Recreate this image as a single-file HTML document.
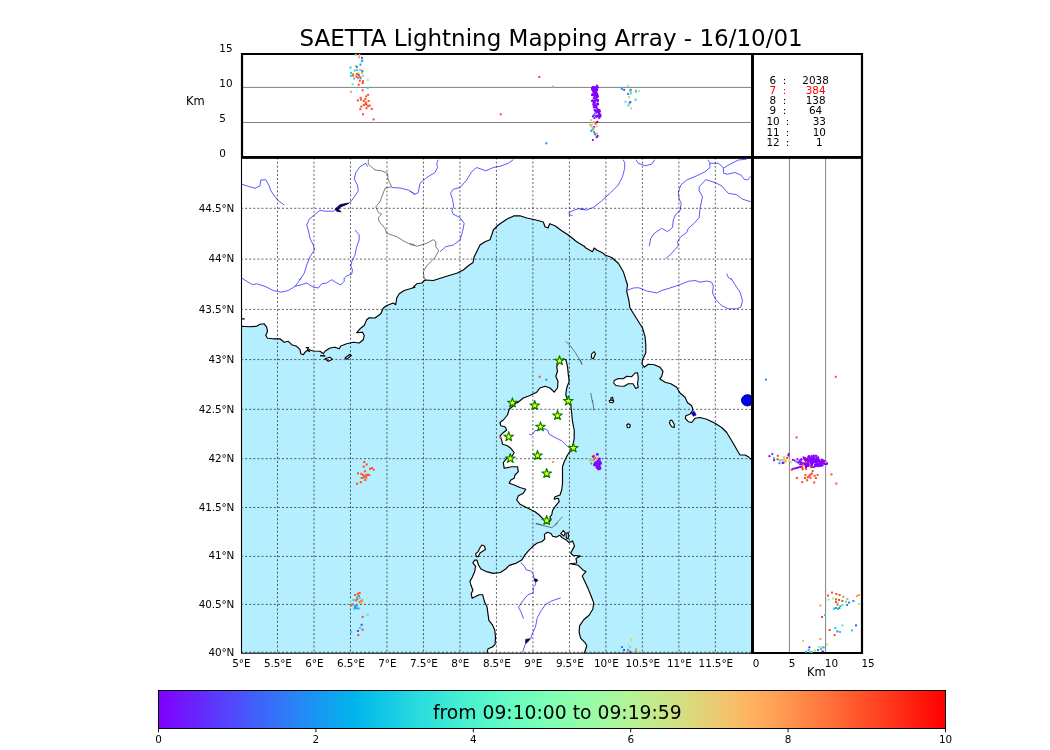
<!DOCTYPE html>
<html><head><meta charset="utf-8"><title>SAETTA Lightning Mapping Array</title>
<style>html,body{margin:0;padding:0;background:#fff;}body{width:1050px;height:750px;position:relative;overflow:hidden;font-family:"DejaVu Sans","Liberation Sans",sans-serif;}</style></head>
<body>
<svg width="1050" height="750" viewBox="0 0 1050 750" style="position:absolute;left:0;top:0">
<defs><clipPath id="mc"><rect x="241.5" y="157.5" width="510.5" height="495.5"/></clipPath>
<linearGradient id="rb" x1="0" x2="1" y1="0" y2="0"><stop offset="0.0000" stop-color="#8000ff"/><stop offset="0.0250" stop-color="#7413ff"/><stop offset="0.0500" stop-color="#6826fe"/><stop offset="0.0750" stop-color="#5a3bfd"/><stop offset="0.1000" stop-color="#4e4dfc"/><stop offset="0.1250" stop-color="#4062fa"/><stop offset="0.1500" stop-color="#3473f8"/><stop offset="0.1750" stop-color="#2884f6"/><stop offset="0.2000" stop-color="#1996f3"/><stop offset="0.2250" stop-color="#0ea5ef"/><stop offset="0.2500" stop-color="#00b5eb"/><stop offset="0.2750" stop-color="#0dc2e8"/><stop offset="0.3000" stop-color="#18cde4"/><stop offset="0.3250" stop-color="#27dade"/><stop offset="0.3500" stop-color="#32e3da"/><stop offset="0.3750" stop-color="#41ecd4"/><stop offset="0.4000" stop-color="#4df3ce"/><stop offset="0.4250" stop-color="#59f8c9"/><stop offset="0.4500" stop-color="#67fcc2"/><stop offset="0.4750" stop-color="#72febb"/><stop offset="0.5000" stop-color="#81ffb4"/><stop offset="0.5250" stop-color="#8dfead"/><stop offset="0.5500" stop-color="#99fca6"/><stop offset="0.5750" stop-color="#a6f89d"/><stop offset="0.6000" stop-color="#b3f396"/><stop offset="0.6250" stop-color="#c1eb8d"/><stop offset="0.6500" stop-color="#cde385"/><stop offset="0.6750" stop-color="#d9da7d"/><stop offset="0.7000" stop-color="#e6cd73"/><stop offset="0.7250" stop-color="#f3c26b"/><stop offset="0.7500" stop-color="#ffb360"/><stop offset="0.7750" stop-color="#ffa558"/><stop offset="0.8000" stop-color="#ff964f"/><stop offset="0.8250" stop-color="#ff8444"/><stop offset="0.8500" stop-color="#ff733b"/><stop offset="0.8750" stop-color="#ff5f30"/><stop offset="0.9000" stop-color="#ff4d27"/><stop offset="0.9250" stop-color="#ff3b1e"/><stop offset="0.9500" stop-color="#ff2613"/><stop offset="0.9750" stop-color="#ff1309"/><stop offset="1.0000" stop-color="#ff0000"/></linearGradient>
</defs>
<g clip-path="url(#mc)">
<rect x="241.5" y="157.5" width="510.5" height="495.5" fill="#b4eeff"/>
<path d="M230.0 326.3 L241.7 326.3 L248.3 326.7 L256.7 326.3 L260.0 324.3 L264.2 323.8 L266.7 327.2 L267.5 331.3 L265.8 335.5 L267.5 338.3 L273.3 338.8 L280.0 338.8 L284.2 342.2 L288.3 341.3 L291.7 344.7 L296.7 346.3 L300.0 349.7 L300.8 353.8 L303.3 354.7 L305.8 351.3 L309.2 349.7 L313.3 351.0 L320.0 351.3 L323.3 353.8 L325.0 351.3 L330.0 348.0 L335.0 347.2 L339.2 348.8 L340.8 346.0 L346.7 343.8 L353.3 342.2 L359.2 343.0 L363.3 339.7 L364.2 335.5 L362.5 332.2 L356.7 332.7 L360.0 328.8 L364.2 325.5 L366.7 319.7 L369.2 317.7 L375.0 318.0 L380.8 313.8 L383.3 308.0 L386.7 305.5 L393.3 303.0 L395.8 304.7 L396.7 298.0 L399.2 293.8 L404.2 290.5 L410.0 288.8 L415.0 287.2 L413.3 287.2 L416.7 283.8 L421.7 283.0 L425.0 280.0 L433.3 280.5 L448.3 275.8 L456.7 273.3 L463.3 270.0 L468.3 265.8 L473.0 262.5 L474.2 256.7 L476.7 251.7 L480.0 245.0 L485.0 241.7 L490.0 239.7 L491.7 235.0 L493.3 230.0 L498.3 225.0 L506.7 219.2 L514.2 215.8 L520.0 215.8 L526.7 218.0 L535.0 219.7 L543.3 222.0 L545.0 226.7 L548.0 228.0 L549.7 223.7 L555.0 225.8 L561.7 230.8 L568.3 235.0 L576.7 241.7 L585.0 246.7 L585.0 247.5 L592.5 251.7 L594.2 248.0 L596.7 250.0 L603.3 253.3 L605.0 255.0 L611.7 257.5 L618.3 263.3 L623.3 271.7 L625.8 279.7 L627.5 284.7 L626.7 291.3 L628.7 299.7 L630.0 308.0 L634.2 314.7 L638.3 321.3 L642.5 328.0 L645.0 336.3 L645.8 344.7 L645.8 353.0 L642.5 359.7 L642.0 363.8 L644.2 367.2 L648.3 364.3 L654.2 364.7 L660.0 367.2 L663.0 371.3 L661.7 376.3 L659.7 378.8 L665.0 382.2 L670.8 383.8 L676.7 387.2 L680.0 393.0 L685.0 397.2 L687.5 402.7 L688.3 403.3 L691.7 405.8 L693.0 410.0 L690.0 414.2 L685.8 415.8 L685.3 418.3 L688.3 421.7 L691.7 422.5 L695.0 418.3 L700.0 417.5 L706.7 419.2 L715.0 423.3 L721.7 427.5 L726.7 432.5 L730.8 439.2 L734.2 445.0 L737.5 450.8 L740.0 455.0 L745.0 455.0 L748.3 456.7 L750.8 459.2 L765.0 459.2 L765.0 140.0 L230.0 140.0 Z" fill="#fff" stroke="#000" stroke-width="1.15" stroke-linejoin="round"/>
<path d="M517.5 402.7 L523.3 398.0 L530.0 395.5 L536.7 392.2 L540.0 388.0 L545.0 386.3 L550.0 388.0 L554.2 392.2 L557.5 388.0 L558.0 381.3 L555.8 376.3 L557.5 371.3 L556.7 366.3 L559.2 362.2 L563.3 358.8 L565.8 359.7 L567.5 366.3 L568.3 374.7 L569.2 381.3 L566.7 388.0 L565.8 394.7 L567.5 399.7 L568.3 402.7 L570.8 405.0 L571.7 413.3 L572.5 421.7 L574.2 430.0 L574.2 438.3 L573.0 445.0 L570.8 450.0 L567.5 455.0 L564.2 461.7 L562.5 466.7 L562.5 475.0 L562.5 483.3 L561.7 490.0 L560.0 495.0 L555.0 496.7 L554.2 499.2 L558.3 498.3 L559.2 501.7 L555.0 506.7 L552.5 510.8 L551.7 515.0 L550.0 516.7 L550.8 520.0 L548.3 522.5 L546.7 522.5 L543.3 519.2 L539.2 515.0 L535.0 511.7 L530.0 509.2 L525.0 506.7 L520.0 504.2 L516.7 500.0 L518.3 495.8 L523.3 493.3 L525.8 489.2 L520.0 487.5 L514.2 485.0 L509.2 483.3 L510.8 480.0 L514.2 478.3 L515.0 475.0 L518.3 471.7 L517.5 466.7 L511.7 466.7 L504.2 468.3 L503.3 462.5 L506.7 458.3 L511.7 456.7 L514.2 452.5 L510.8 448.3 L507.5 445.8 L502.5 444.2 L501.7 440.0 L500.0 435.8 L502.5 433.3 L506.7 430.0 L505.0 426.7 L500.8 425.8 L500.0 422.5 L503.3 420.0 L507.5 415.0 L509.2 409.2 L513.3 405.8 L517.5 401.7 Z" fill="#fff" stroke="#000" stroke-width="1.15" stroke-linejoin="round"/>
<path d="M487.1 652.3 L488.0 648.8 L492.4 647.0 L495.1 644.3 L495.5 637.2 L494.8 630.2 L492.4 624.8 L488.9 620.4 L488.0 614.2 L487.1 607.1 L484.5 601.8 L482.7 594.7 L479.1 594.7 L475.6 596.5 L472.1 598.2 L471.2 593.8 L472.9 590.3 L471.2 585.8 L469.9 581.4 L472.4 577.0 L474.7 571.6 L475.6 566.3 L472.9 562.8 L474.7 560.1 L477.0 560.1 L478.3 564.6 L480.9 569.0 L486.2 571.6 L493.3 573.4 L500.4 572.5 L505.7 569.0 L509.3 565.4 L516.4 563.1 L521.7 560.1 L524.4 555.7 L527.9 551.3 L532.3 546.8 L536.8 543.3 L542.1 541.5 L544.8 538.8 L544.4 534.4 L547.4 532.3 L551.0 533.5 L552.7 536.2 L556.3 537.1 L559.8 535.3 L562.5 538.0 L566.0 539.7 L568.7 542.4 L572.2 541.5 L572.5 540.8 L574.5 546.1 L570.7 553.0 L573.0 555.3 L580.6 556.1 L576.0 558.4 L576.8 563.0 L569.9 563.8 L578.3 565.3 L582.9 569.9 L586.0 571.4 L582.2 576.0 L585.2 582.2 L588.3 589.1 L591.4 596.7 L593.7 602.9 L592.9 609.0 L589.1 615.2 L583.7 619.8 L579.6 625.9 L579.1 632.0 L580.6 638.2 L585.2 642.8 L586.8 645.8 L584.5 652.7 L584.2 656.6 L583.0 665.0 L487.0 665.0 Z" fill="#fff" stroke="#000" stroke-width="1.15" stroke-linejoin="round"/>
<path d="M325.0 358.8 L330.0 357.2 L332.5 359.3 L328.3 361.3 Z" fill="#fff" stroke="#000" stroke-width="1.1" stroke-linejoin="round"/>
<path d="M345.0 358.0 L350.0 354.3 L351.3 355.5 L346.7 359.3 Z" fill="#fff" stroke="#000" stroke-width="1.1" stroke-linejoin="round"/>
<path d="M614.2 380.5 L618.3 378.5 L623.3 378.8 L626.7 376.3 L631.7 376.7 L635.0 373.0 L637.5 372.7 L638.3 378.0 L637.5 383.8 L638.3 387.2 L635.8 388.5 L633.0 383.8 L628.3 383.8 L624.2 386.3 L619.2 386.0 L615.8 385.5 L613.7 383.0 Z" fill="#fff" stroke="#000" stroke-width="1.1" stroke-linejoin="round"/>
<path d="M591.7 353.8 L594.2 351.7 L595.5 353.8 L593.3 358.8 L591.3 357.7 Z" fill="#fff" stroke="#000" stroke-width="1.1" stroke-linejoin="round"/>
<path d="M610.8 398.3 L612.5 397.2 L613.3 400.5 L611.2 402.2 Z" fill="#fff" stroke="#000" stroke-width="1.1" stroke-linejoin="round"/>
<path d="M670.0 420.8 L671.7 420.0 L674.2 424.2 L674.2 427.5 L671.7 426.7 L669.5 423.3 Z" fill="#fff" stroke="#000" stroke-width="1.1" stroke-linejoin="round"/>
<path d="M626.7 425.0 L628.3 423.7 L630.3 425.0 L629.7 427.5 L627.5 427.8 Z" fill="#fff" stroke="#000" stroke-width="1.1" stroke-linejoin="round"/>
<path d="M609.2 400.8 L611.7 400.0 L613.8 401.3 L612.5 402.8 L610.0 402.5 Z" fill="#fff" stroke="#000" stroke-width="1.1" stroke-linejoin="round"/>
<path d="M476.5 556.6 L475.6 553.9 L478.3 551.3 L480.0 547.7 L481.8 545.0 L484.5 545.9 L485.4 549.5 L482.7 551.3 L480.0 553.0 L478.3 556.6 Z" fill="#fff" stroke="#000" stroke-width="1.1" stroke-linejoin="round"/>
<path d="M560.7 533.5 L563.4 530.5 L565.1 532.6 L563.9 536.2 Z" fill="#fff" stroke="#000" stroke-width="1.1" stroke-linejoin="round"/>
<path d="M566.0 533.5 L568.3 532.6 L568.3 538.8 L566.4 538.0 Z" fill="#fff" stroke="#000" stroke-width="1.1" stroke-linejoin="round"/>
<path d="M241.7 318.8 L244.7 318.8" fill="none" stroke="#000" stroke-width="1.3"/>
<path d="M305.8 347.7 L308.3 347.7 L307.5 350.5 L310.0 351.7" fill="none" stroke="#000" stroke-width="1.3"/>
<path d="M320.0 355.7 L325.3 356.0" fill="none" stroke="#000" stroke-width="1.3"/>
<ellipse cx="747.5" cy="400.3" rx="6" ry="5.6" fill="#0000ff" stroke="#000060" stroke-width="1"/>
<path d="M691.3 413.0 L694.2 411.3 L696.2 415.0 L693.3 416.2 Z" fill="#0000c0" stroke="#000080" stroke-width="0.6"/>
<path d="M241.7 184.2 L246.7 185.8 L255.0 188.3 L260.0 185.8 L260.8 180.0 L265.8 179.7 L269.2 185.8 L270.8 190.8 L277.5 200.0 L284.2 205.0" fill="none" stroke="#3030ff" stroke-width="0.8" stroke-linejoin="round"/>
<path d="M367.5 166.7 L365.8 163.3 L360.0 166.7 L355.8 172.5 L354.2 179.2 L357.5 185.0 L358.3 190.8 L355.0 195.8 L350.8 201.7 L348.3 203.3" fill="none" stroke="#3030ff" stroke-width="0.8" stroke-linejoin="round"/>
<path d="M335.0 210.0 L333.3 211.2 L325.0 211.2 L320.0 210.3 L313.3 215.8 L309.2 219.2 L306.7 225.0 L308.3 230.0 L310.0 238.3 L313.3 245.0 L314.5 250.0 L310.0 256.7 L306.7 265.0 L304.2 273.3 L300.0 279.7" fill="none" stroke="#3030ff" stroke-width="0.8" stroke-linejoin="round"/>
<path d="M355.0 230.0 L359.2 235.0 L359.2 240.0 L356.7 246.7 L355.0 255.0 L351.7 261.7 L350.8 265.8 L352.5 270.0 L351.7 274.2 L346.7 275.8 L344.2 278.3" fill="none" stroke="#3030ff" stroke-width="0.8" stroke-linejoin="round"/>
<path d="M391.7 187.5 L400.0 188.0 L408.3 190.0 L415.0 194.7" fill="none" stroke="#3030ff" stroke-width="0.8" stroke-linejoin="round"/>
<path d="M410.0 190.8 L415.0 194.2 L418.3 192.5 L420.0 183.3 L426.7 177.5 L435.0 172.5 L437.5 167.5 L436.7 163.3 L438.3 159.7" fill="none" stroke="#3030ff" stroke-width="0.8" stroke-linejoin="round"/>
<path d="M440.0 251.7 L445.8 246.7 L453.3 245.0 L460.0 240.0 L462.5 231.7 L464.2 223.3 L460.0 217.5 L453.3 214.2 L451.7 210.8 L453.7 206.7 L452.5 199.2 L450.5 193.3 L453.3 189.2 L460.0 187.5 L466.7 180.0 L471.7 171.7 L476.7 167.5 L485.8 170.8 L493.3 167.5 L500.0 166.3 L508.3 163.3 L513.3 159.7" fill="none" stroke="#3030ff" stroke-width="0.8" stroke-linejoin="round"/>
<path d="M585.0 209.2 L578.3 208.7 L572.5 210.8 L569.2 212.5 L569.2 215.0 L572.5 215.3" fill="none" stroke="#3030ff" stroke-width="0.8" stroke-linejoin="round"/>
<path d="M580.0 209.2 L586.7 210.0 L593.3 207.5 L601.7 200.8 L610.0 193.3 L618.3 185.0 L622.5 176.7 L624.7 168.3 L624.7 162.5 L623.0 159.7" fill="none" stroke="#3030ff" stroke-width="0.8" stroke-linejoin="round"/>
<path d="M635.8 159.7 L638.3 163.3 L645.0 165.8 L651.7 164.2 L654.7 159.7" fill="none" stroke="#3030ff" stroke-width="0.8" stroke-linejoin="round"/>
<path d="M649.2 246.3 L650.8 238.3 L654.2 233.3 L661.7 228.3 L667.5 231.7 L672.5 227.5 L673.3 220.0 L675.8 214.2 L680.0 210.8 L681.2 203.3 L679.2 199.2 L678.3 192.5 L680.8 185.0 L686.7 180.0 L696.7 175.8 L705.0 171.7 L710.0 167.5 L709.7 162.5 L707.5 159.7" fill="none" stroke="#3030ff" stroke-width="0.8" stroke-linejoin="round"/>
<path d="M710.0 163.3 L718.3 163.3 L722.5 166.7 L723.3 168.3 L730.0 164.2 L738.3 160.0 L746.7 159.2" fill="none" stroke="#3030ff" stroke-width="0.8" stroke-linejoin="round"/>
<path d="M723.3 168.3 L723.7 173.3 L727.5 174.2 L735.0 172.5 L740.8 175.0 L744.2 179.2 L747.5 180.0 L750.8 176.3" fill="none" stroke="#3030ff" stroke-width="0.8" stroke-linejoin="round"/>
<path d="M665.8 258.7 L671.7 253.3 L678.3 245.8 L677.5 241.7 L680.8 236.7 L686.7 232.5 L688.3 228.3 L694.2 223.3 L699.2 217.5 L700.0 208.3 L702.5 196.7 L699.2 190.8 L699.2 186.7 L705.8 179.7 L715.0 182.5 L721.7 185.8 L728.3 193.3 L736.7 194.7 L742.5 199.2 L750.8 201.7" fill="none" stroke="#3030ff" stroke-width="0.8" stroke-linejoin="round"/>
<path d="M726.7 273.7 L728.3 277.5 L731.7 279.7" fill="none" stroke="#3030ff" stroke-width="0.8" stroke-linejoin="round"/>
<path d="M241.7 278.0 L246.7 281.3 L252.5 284.7 L256.7 283.8 L265.0 286.3 L273.3 290.5 L281.7 292.2 L288.3 290.5 L295.0 286.3 L298.3 282.2 L300.8 278.0" fill="none" stroke="#3030ff" stroke-width="0.8" stroke-linejoin="round"/>
<path d="M295.0 286.3 L301.7 284.7 L306.7 283.0 L313.3 287.2 L318.3 288.0 L321.7 283.8 L326.7 283.0 L331.7 279.7 L336.7 283.0 L340.8 285.0 L344.2 281.3 L344.2 278.0" fill="none" stroke="#3030ff" stroke-width="0.8" stroke-linejoin="round"/>
<path d="M626.7 290.5 L633.3 288.0 L638.3 287.7 L641.7 288.8 L646.7 291.0 L653.3 292.2 L656.7 293.0 L661.7 290.5 L670.0 288.0 L680.0 284.7 L688.3 281.3 L695.0 280.5 L700.0 282.2 L706.7 281.0 L711.7 282.2 L713.3 286.3 L712.5 293.0 L715.8 299.7 L721.7 305.5 L728.3 308.8 L736.7 308.8 L740.8 307.2 L742.5 300.5 L740.0 292.2 L735.0 284.7 L730.8 278.0" fill="none" stroke="#3030ff" stroke-width="0.8" stroke-linejoin="round"/>
<path d="M529.2 434.2 L531.7 435.0 L535.0 430.8 L539.2 430.0 L543.3 428.3 L547.5 430.0 L549.2 434.2 L555.0 437.5 L561.7 440.8 L566.7 445.8 L570.8 448.3" fill="none" stroke="#3030ff" stroke-width="0.8" stroke-linejoin="round"/>
<path d="M520.8 562.4 L524.4 566.3 L526.1 569.9 L530.6 570.8 L533.2 574.3 L534.1 578.7 L535.9 584.1 L533.2 587.6 L533.2 592.9 L527.9 594.7 L523.5 600.0 L518.5 607.1 L520.8 611.5 L523.5 618.6" fill="none" stroke="#3030ff" stroke-width="0.8" stroke-linejoin="round"/>
<path d="M560.7 597.9 L551.8 600.9 L545.6 604.4 L541.2 610.7 L537.3 617.7 L535.5 626.6 L532.3 633.7 L530.6 639.0 L525.2 644.3 L522.6 652.3" fill="none" stroke="#3030ff" stroke-width="0.8" stroke-linejoin="round"/>
<path d="M348.3 203.0 L340.0 204.7 L335.0 209.2 L336.7 211.2 L341.2 211.8 L338.3 209.3 L341.2 206.7 L348.3 203.7 Z" fill="#0000a0" stroke="#000" stroke-width="0.8"/>
<path d="M534.3 578.9 L536.6 579.1 L537.9 580.4 L535.9 582.0 L534.9 580.7 Z" fill="#0000a0" stroke="#000" stroke-width="0.8"/>
<path d="M525.7 639.4 L529.8 638.8 L527.7 641.5 L525.7 643.4 Z" fill="#0000a0" stroke="#000" stroke-width="0.8"/>
<path d="M368.3 159.2 L368.3 164.2 L375.0 170.0 L381.7 170.8 L387.5 173.3 L388.3 180.0 L391.7 186.7 L385.0 188.3 L382.5 195.0 L380.0 201.7 L375.8 206.7 L378.3 212.5 L381.7 214.2 L378.3 217.5 L379.2 221.7 L385.0 228.3 L386.7 233.3 L396.7 236.7 L403.3 240.8 L411.7 245.0 L415.0 245.3" fill="none" stroke="#444" stroke-width="0.7" stroke-linejoin="round"/>
<path d="M410.0 243.3 L416.7 246.3 L426.7 243.3 L433.3 239.7 L435.8 241.7 L435.8 246.7 L438.7 250.8 L435.0 257.5 L426.7 265.8 L423.3 271.7 L424.2 278.3 L426.7 280.0" fill="none" stroke="#444" stroke-width="0.7" stroke-linejoin="round"/>
<path d="M565.8 341.3 L570.0 345.5 L575.0 352.2 L579.2 358.8 L582.2 364.3" fill="none" stroke="#444" stroke-width="0.7" stroke-linejoin="round"/>
<path d="M580.0 359.7 L582.0 364.7" fill="none" stroke="#444" stroke-width="0.7" stroke-linejoin="round"/>
<path d="M590.8 393.0 L592.5 402.7" fill="none" stroke="#444" stroke-width="0.7" stroke-linejoin="round"/>
<path d="M535.8 523.3 L541.7 524.7" fill="none" stroke="#444" stroke-width="0.7" stroke-linejoin="round"/>
<path d="M555.0 524.7 L562.5 516.7" fill="none" stroke="#444" stroke-width="0.7" stroke-linejoin="round"/>
<path d="M592.5 400.0 L593.3 405.0 L593.7 410.3" fill="none" stroke="#444" stroke-width="0.7" stroke-linejoin="round"/>
<path d="M535.9 523.8 L551.8 527.7 L558.0 522.9" fill="none" stroke="#444" stroke-width="0.7" stroke-linejoin="round"/>
<path d="M277.49 157.5 V653.0 M313.98 157.5 V653.0 M350.47 157.5 V653.0 M386.96 157.5 V653.0 M423.45 157.5 V653.0 M459.94 157.5 V653.0 M496.43 157.5 V653.0 M532.92 157.5 V653.0 M569.41 157.5 V653.0 M605.90 157.5 V653.0 M642.39 157.5 V653.0 M678.88 157.5 V653.0 M715.37 157.5 V653.0 M241 208.3 H752.0 M241 259.1 H752.0 M241 309.4 H752.0 M241 359.6 H752.0 M241 409.3 H752.0 M241 458.7 H752.0 M241 507.5 H752.0 M241 556.4 H752.0 M241 604.4 H752.0 M241 652.3 H752.0" fill="none" stroke="#000" stroke-opacity="0.62" stroke-width="1" stroke-dasharray="2 2.1"/>
<rect x="363.2" y="461.0" width="2" height="2" fill="#ff4a26"/>
<rect x="365.7" y="463.5" width="2" height="2" fill="#ff4a26"/>
<rect x="362.7" y="465.7" width="2" height="2" fill="#ff4a26"/>
<rect x="364.0" y="470.3" width="2" height="2" fill="#ff4a26"/>
<rect x="369.0" y="467.8" width="2" height="2" fill="#ff4a26"/>
<rect x="371.0" y="467.0" width="2" height="2" fill="#ff4a26"/>
<rect x="372.7" y="468.7" width="2" height="2" fill="#ff4a26"/>
<rect x="357.0" y="472.3" width="2" height="2" fill="#ff4a26"/>
<rect x="360.3" y="472.8" width="2" height="2" fill="#ff4a26"/>
<rect x="362.0" y="474.0" width="2" height="2" fill="#ff4a26"/>
<rect x="363.7" y="475.2" width="2" height="2" fill="#ff4a26"/>
<rect x="365.3" y="474.3" width="2" height="2" fill="#ff4a26"/>
<rect x="366.5" y="473.7" width="2" height="2" fill="#ff4a26"/>
<rect x="368.2" y="474.0" width="2" height="2" fill="#ff4a26"/>
<rect x="365.3" y="476.5" width="2" height="2" fill="#ff4a26"/>
<rect x="362.7" y="476.5" width="2" height="2" fill="#ff4a26"/>
<rect x="360.7" y="477.0" width="2" height="2" fill="#ff4a26"/>
<rect x="364.3" y="479.0" width="2" height="2" fill="#ff4a26"/>
<rect x="359.8" y="481.2" width="2" height="2" fill="#ff4a26"/>
<rect x="356.0" y="482.7" width="2" height="2" fill="#ff4a26"/>
<rect x="356.9" y="592.8" width="2" height="2" fill="#ff4a26"/>
<rect x="358.7" y="591.9" width="2" height="2" fill="#ff4a26"/>
<rect x="354.2" y="594.0" width="2" height="2" fill="#ff4a26"/>
<rect x="357.8" y="595.1" width="2" height="2" fill="#ff4a26"/>
<rect x="356.0" y="598.1" width="2" height="2" fill="#ff4a26"/>
<rect x="355.1" y="599.4" width="2" height="2" fill="#ff4a26"/>
<rect x="360.5" y="599.9" width="2" height="2" fill="#ff4a26"/>
<rect x="358.7" y="601.1" width="2" height="2" fill="#ff4a26"/>
<rect x="351.6" y="603.4" width="2" height="2" fill="#ff4a26"/>
<rect x="350.3" y="604.3" width="2" height="2" fill="#ff4a26"/>
<rect x="361.7" y="615.9" width="2" height="2" fill="#ff4a26"/>
<rect x="361.7" y="628.8" width="2" height="2" fill="#ff4a26"/>
<rect x="357.3" y="634.1" width="2" height="2" fill="#ff4a26"/>
<rect x="361.3" y="599.0" width="2" height="2" fill="#ff9a4e"/>
<rect x="359.6" y="601.7" width="2" height="2" fill="#ff9a4e"/>
<rect x="356.0" y="596.4" width="2" height="2" fill="#22d0e0"/>
<rect x="352.5" y="599.0" width="2" height="2" fill="#22d0e0"/>
<rect x="354.2" y="604.3" width="2" height="2" fill="#22d0e0"/>
<rect x="353.4" y="607.9" width="2" height="2" fill="#22d0e0"/>
<rect x="358.7" y="597.2" width="2" height="2" fill="#22d0e0"/>
<rect x="359.2" y="626.9" width="2" height="2" fill="#22d0e0"/>
<rect x="350.2" y="630.9" width="2" height="2" fill="#22d0e0"/>
<rect x="349.8" y="599.9" width="2" height="2" fill="#a0f0a0"/>
<rect x="366.7" y="596.9" width="2" height="2" fill="#a0f0a0"/>
<rect x="362.2" y="601.7" width="2" height="2" fill="#a0f0a0"/>
<rect x="356.9" y="602.6" width="2" height="2" fill="#a0f0a0"/>
<rect x="366.7" y="613.7" width="2" height="2" fill="#5ce8a8"/>
<rect x="356.0" y="604.3" width="2" height="2" fill="#2090f0"/>
<rect x="355.1" y="607.0" width="2" height="2" fill="#2090f0"/>
<rect x="357.4" y="607.5" width="2" height="2" fill="#2090f0"/>
<rect x="353.9" y="605.8" width="2" height="2" fill="#2090f0"/>
<rect x="360.6" y="623.8" width="2" height="2" fill="#4050ff"/>
<rect x="356.9" y="630.0" width="2" height="2" fill="#4050ff"/>
<rect x="630.1" y="638.0" width="2" height="2" fill="#e6d36a"/>
<rect x="630.1" y="639.4" width="2" height="2" fill="#e6d36a"/>
<rect x="637.5" y="651.0" width="2" height="2" fill="#e6d36a"/>
<rect x="626.9" y="643.9" width="2" height="2" fill="#a0f0a0"/>
<rect x="629.2" y="646.0" width="2" height="2" fill="#5ce8a8"/>
<rect x="621.0" y="646.0" width="2" height="2" fill="#2090f0"/>
<rect x="627.2" y="649.0" width="2" height="2" fill="#2090f0"/>
<rect x="623.0" y="649.0" width="2" height="2" fill="#4050ff"/>
<rect x="629.2" y="650.8" width="2" height="2" fill="#8000ff"/>
<rect x="634.9" y="647.8" width="2" height="2" fill="#ff9a4e"/>
<rect x="627.8" y="650.1" width="2" height="2" fill="#ff9a4e"/>
<rect x="634.9" y="649.9" width="2" height="2" fill="#22d0e0"/>
<rect x="538.7" y="375.8" width="2" height="2" fill="#ff4a26"/>
<rect x="545.3" y="378.7" width="2" height="2" fill="#2090f0"/>
<rect x="552.0" y="461.0" width="2" height="2" fill="#ff9a4e"/>
<rect x="499.5" y="436.5" width="2" height="2" fill="#ff4a26"/>
<circle cx="599.5" cy="459.0" r="1.4" fill="#8000ff"/>
<circle cx="598.0" cy="461.0" r="1.4" fill="#8000ff"/>
<circle cx="600.0" cy="462.0" r="1.4" fill="#8000ff"/>
<circle cx="597.0" cy="463.0" r="1.4" fill="#8000ff"/>
<circle cx="599.0" cy="464.0" r="1.4" fill="#8000ff"/>
<circle cx="595.0" cy="464.0" r="1.4" fill="#8000ff"/>
<circle cx="596.5" cy="465.5" r="1.4" fill="#8000ff"/>
<circle cx="598.5" cy="466.0" r="1.4" fill="#8000ff"/>
<circle cx="594.5" cy="465.0" r="1.4" fill="#8000ff"/>
<circle cx="597.0" cy="467.5" r="1.4" fill="#8000ff"/>
<circle cx="599.0" cy="468.0" r="1.4" fill="#8000ff"/>
<circle cx="600.0" cy="468.5" r="1.4" fill="#8000ff"/>
<circle cx="598.5" cy="469.0" r="1.4" fill="#8000ff"/>
<circle cx="600.5" cy="463.5" r="1.4" fill="#8000ff"/>
<circle cx="593.3" cy="456.6" r="1.4" fill="#8000ff"/>
<circle cx="597.4" cy="454.4" r="1.4" fill="#8000ff"/>
<circle cx="596.0" cy="462.5" r="1.4" fill="#8000ff"/>
<circle cx="598.0" cy="459.5" r="1.4" fill="#8000ff"/>
<circle cx="599.5" cy="466.5" r="1.4" fill="#8000ff"/>
<circle cx="594.2" cy="455.8" r="1.05" fill="#ff4a26"/>
<circle cx="595.8" cy="457.8" r="1.05" fill="#ff4a26"/>
<circle cx="594.0" cy="459.6" r="1.05" fill="#ff4a26"/>
<circle cx="591.2" cy="459.0" r="1.05" fill="#e6c86a"/>
<circle cx="591.2" cy="461.4" r="1.05" fill="#e6c86a"/>
<circle cx="596.8" cy="457.4" r="1.05" fill="#e6c86a"/>
<circle cx="597.2" cy="459.0" r="1.05" fill="#ff9a4e"/>
<circle cx="589.8" cy="460.2" r="1.05" fill="#5ce8a8"/>
<circle cx="593.8" cy="461.2" r="1.05" fill="#a0f090"/>
<circle cx="591.4" cy="463.6" r="1.05" fill="#2090f0"/>
<circle cx="595.2" cy="462.2" r="1.05" fill="#4050ff"/>
<circle cx="592.5" cy="460.3" r="1.05" fill="#ff9a4e"/>
<path transform="translate(559.5 360.7)" d="M0.0 -5.0 L1.1 -1.5 L4.8 -1.5 L1.8 0.6 L2.9 4.0 L0.0 1.9 L-2.9 4.0 L-1.8 0.6 L-4.8 -1.5 L-1.1 -1.5 Z" fill="#ffff00" stroke="#008000" stroke-width="1.15" stroke-linejoin="round"/>
<path transform="translate(512.4 402.8)" d="M0.0 -5.0 L1.1 -1.5 L4.8 -1.5 L1.8 0.6 L2.9 4.0 L0.0 1.9 L-2.9 4.0 L-1.8 0.6 L-4.8 -1.5 L-1.1 -1.5 Z" fill="#ffff00" stroke="#008000" stroke-width="1.15" stroke-linejoin="round"/>
<path transform="translate(534.7 405.5)" d="M0.0 -5.0 L1.1 -1.5 L4.8 -1.5 L1.8 0.6 L2.9 4.0 L0.0 1.9 L-2.9 4.0 L-1.8 0.6 L-4.8 -1.5 L-1.1 -1.5 Z" fill="#ffff00" stroke="#008000" stroke-width="1.15" stroke-linejoin="round"/>
<path transform="translate(568.3 401.0)" d="M0.0 -5.0 L1.1 -1.5 L4.8 -1.5 L1.8 0.6 L2.9 4.0 L0.0 1.9 L-2.9 4.0 L-1.8 0.6 L-4.8 -1.5 L-1.1 -1.5 Z" fill="#ffff00" stroke="#008000" stroke-width="1.15" stroke-linejoin="round"/>
<path transform="translate(557.5 415.5)" d="M0.0 -5.0 L1.1 -1.5 L4.8 -1.5 L1.8 0.6 L2.9 4.0 L0.0 1.9 L-2.9 4.0 L-1.8 0.6 L-4.8 -1.5 L-1.1 -1.5 Z" fill="#ffff00" stroke="#008000" stroke-width="1.15" stroke-linejoin="round"/>
<path transform="translate(540.5 426.8)" d="M0.0 -5.0 L1.1 -1.5 L4.8 -1.5 L1.8 0.6 L2.9 4.0 L0.0 1.9 L-2.9 4.0 L-1.8 0.6 L-4.8 -1.5 L-1.1 -1.5 Z" fill="#ffff00" stroke="#008000" stroke-width="1.15" stroke-linejoin="round"/>
<path transform="translate(508.7 436.7)" d="M0.0 -5.0 L1.1 -1.5 L4.8 -1.5 L1.8 0.6 L2.9 4.0 L0.0 1.9 L-2.9 4.0 L-1.8 0.6 L-4.8 -1.5 L-1.1 -1.5 Z" fill="#ffff00" stroke="#008000" stroke-width="1.15" stroke-linejoin="round"/>
<path transform="translate(573.3 448.0)" d="M0.0 -5.0 L1.1 -1.5 L4.8 -1.5 L1.8 0.6 L2.9 4.0 L0.0 1.9 L-2.9 4.0 L-1.8 0.6 L-4.8 -1.5 L-1.1 -1.5 Z" fill="#ffff00" stroke="#008000" stroke-width="1.15" stroke-linejoin="round"/>
<path transform="translate(537.5 455.5)" d="M0.0 -5.0 L1.1 -1.5 L4.8 -1.5 L1.8 0.6 L2.9 4.0 L0.0 1.9 L-2.9 4.0 L-1.8 0.6 L-4.8 -1.5 L-1.1 -1.5 Z" fill="#ffff00" stroke="#008000" stroke-width="1.15" stroke-linejoin="round"/>
<path transform="translate(510.3 458.5)" d="M0.0 -5.0 L1.1 -1.5 L4.8 -1.5 L1.8 0.6 L2.9 4.0 L0.0 1.9 L-2.9 4.0 L-1.8 0.6 L-4.8 -1.5 L-1.1 -1.5 Z" fill="#ffff00" stroke="#008000" stroke-width="1.15" stroke-linejoin="round"/>
<path transform="translate(546.7 473.5)" d="M0.0 -5.0 L1.1 -1.5 L4.8 -1.5 L1.8 0.6 L2.9 4.0 L0.0 1.9 L-2.9 4.0 L-1.8 0.6 L-4.8 -1.5 L-1.1 -1.5 Z" fill="#ffff00" stroke="#008000" stroke-width="1.15" stroke-linejoin="round"/>
<path transform="translate(546.7 520.5)" d="M0.0 -5.0 L1.1 -1.5 L4.8 -1.5 L1.8 0.6 L2.9 4.0 L0.0 1.9 L-2.9 4.0 L-1.8 0.6 L-4.8 -1.5 L-1.1 -1.5 Z" fill="#ffff00" stroke="#008000" stroke-width="1.15" stroke-linejoin="round"/>
</g>
<path d="M242 87.4 H752 M242 122.5 H752 M789.4 158 V653 M825.6 158 V653" stroke="#808080" stroke-width="1" fill="none"/>
<path d="M241.5 157.5 V653.5 M241 653.2 H752" stroke="#000" stroke-width="1.1" fill="none"/>
<path d="M242 54 H862 M242 53 V158.5 M241 157.4 H863 M862 53 V654 M752.5 53 V654 M751 653 H863" stroke="#000" stroke-width="2.2" fill="none"/>
<path d="M241 157.4 H863 M752.5 53 V654" stroke="#000" stroke-width="2.9" fill="none"/>
<rect x="354.8" y="53.8" width="2" height="2" fill="#5ce8a8"/>
<rect x="362.0" y="74.8" width="2" height="2" fill="#5ce8a8"/>
<rect x="351.6" y="83.2" width="2" height="2" fill="#5ce8a8"/>
<rect x="358.5" y="53.8" width="2" height="2" fill="#ff9a4e"/>
<rect x="358.0" y="56.3" width="2" height="2" fill="#ff9a4e"/>
<rect x="355.1" y="65.2" width="2" height="2" fill="#ff9a4e"/>
<rect x="359.3" y="69.0" width="2" height="2" fill="#ff9a4e"/>
<rect x="361.0" y="71.9" width="2" height="2" fill="#ff9a4e"/>
<rect x="352.1" y="73.0" width="2" height="2" fill="#ff9a4e"/>
<rect x="350.0" y="90.8" width="2" height="2" fill="#ff9a4e"/>
<rect x="360.9" y="56.8" width="2" height="2" fill="#4050ff"/>
<rect x="357.7" y="74.1" width="2" height="2" fill="#4050ff"/>
<rect x="361.2" y="59.5" width="2" height="2" fill="#2090f0"/>
<rect x="359.4" y="63.6" width="2" height="2" fill="#2090f0"/>
<rect x="355.9" y="65.9" width="2" height="2" fill="#2090f0"/>
<rect x="361.4" y="70.0" width="2" height="2" fill="#2090f0"/>
<rect x="360.7" y="60.5" width="2" height="2" fill="#22d0e0"/>
<rect x="349.5" y="66.6" width="2" height="2" fill="#22d0e0"/>
<rect x="353.7" y="69.6" width="2" height="2" fill="#22d0e0"/>
<rect x="356.1" y="69.0" width="2" height="2" fill="#22d0e0"/>
<rect x="350.0" y="71.9" width="2" height="2" fill="#22d0e0"/>
<rect x="350.0" y="74.8" width="2" height="2" fill="#22d0e0"/>
<rect x="353.2" y="77.6" width="2" height="2" fill="#22d0e0"/>
<rect x="359.9" y="77.3" width="2" height="2" fill="#22d0e0"/>
<rect x="366.8" y="86.9" width="2" height="2" fill="#22d0e0"/>
<rect x="357.5" y="71.9" width="2" height="2" fill="#a0f090"/>
<rect x="366.8" y="79.1" width="2" height="2" fill="#a0f090"/>
<rect x="355.9" y="73.0" width="2" height="2" fill="#ff4a26"/>
<rect x="352.1" y="74.6" width="2" height="2" fill="#ff4a26"/>
<rect x="355.3" y="75.5" width="2" height="2" fill="#ff4a26"/>
<rect x="356.9" y="76.7" width="2" height="2" fill="#ff4a26"/>
<rect x="359.1" y="76.2" width="2" height="2" fill="#ff4a26"/>
<rect x="358.8" y="79.7" width="2" height="2" fill="#ff4a26"/>
<rect x="362.0" y="80.2" width="2" height="2" fill="#ff4a26"/>
<rect x="361.7" y="82.1" width="2" height="2" fill="#ff4a26"/>
<rect x="357.7" y="83.7" width="2" height="2" fill="#ff4a26"/>
<rect x="361.7" y="89.3" width="2" height="2" fill="#ff4a26"/>
<rect x="367.1" y="93.8" width="2" height="2" fill="#ff4a26"/>
<rect x="365.2" y="95.4" width="2" height="2" fill="#ff4a26"/>
<rect x="359.6" y="96.8" width="2" height="2" fill="#ff4a26"/>
<rect x="364.4" y="98.1" width="2" height="2" fill="#ff4a26"/>
<rect x="360.1" y="98.6" width="2" height="2" fill="#ff4a26"/>
<rect x="356.9" y="99.4" width="2" height="2" fill="#ff4a26"/>
<rect x="362.8" y="100.0" width="2" height="2" fill="#ff4a26"/>
<rect x="367.6" y="100.0" width="2" height="2" fill="#ff4a26"/>
<rect x="364.9" y="101.5" width="2" height="2" fill="#ff4a26"/>
<rect x="364.4" y="102.9" width="2" height="2" fill="#ff4a26"/>
<rect x="362.8" y="104.0" width="2" height="2" fill="#ff4a26"/>
<rect x="365.5" y="103.6" width="2" height="2" fill="#ff4a26"/>
<rect x="368.7" y="104.5" width="2" height="2" fill="#ff4a26"/>
<rect x="367.1" y="105.2" width="2" height="2" fill="#ff4a26"/>
<rect x="360.4" y="105.6" width="2" height="2" fill="#ff4a26"/>
<rect x="365.5" y="107.2" width="2" height="2" fill="#ff4a26"/>
<rect x="370.8" y="107.9" width="2" height="2" fill="#ff4a26"/>
<rect x="359.3" y="108.2" width="2" height="2" fill="#ff4a26"/>
<rect x="362.0" y="113.2" width="2" height="2" fill="#ff4a26"/>
<rect x="372.6" y="118.4" width="2" height="2" fill="#ff4a26"/>
<circle cx="592.8" cy="94.1" r="1.1" fill="#8000ff"/>
<circle cx="593.5" cy="104.5" r="1.1" fill="#8000ff"/>
<circle cx="594.2" cy="100.6" r="1.1" fill="#8000ff"/>
<circle cx="595.1" cy="87.8" r="1.1" fill="#8000ff"/>
<circle cx="594.6" cy="87.5" r="1.1" fill="#8000ff"/>
<circle cx="592.4" cy="88.0" r="1.1" fill="#8000ff"/>
<circle cx="597.2" cy="97.0" r="1.1" fill="#8000ff"/>
<circle cx="593.3" cy="89.1" r="1.1" fill="#8000ff"/>
<circle cx="597.7" cy="103.7" r="1.1" fill="#8000ff"/>
<circle cx="594.4" cy="101.9" r="1.1" fill="#8000ff"/>
<circle cx="596.1" cy="116.5" r="1.1" fill="#8000ff"/>
<circle cx="596.3" cy="112.0" r="1.1" fill="#8000ff"/>
<circle cx="592.6" cy="89.5" r="1.1" fill="#8000ff"/>
<circle cx="597.1" cy="93.7" r="1.1" fill="#8000ff"/>
<circle cx="595.6" cy="90.4" r="1.1" fill="#8000ff"/>
<circle cx="594.9" cy="104.0" r="1.1" fill="#8000ff"/>
<circle cx="592.3" cy="101.0" r="1.1" fill="#8000ff"/>
<circle cx="593.2" cy="87.8" r="1.1" fill="#8000ff"/>
<circle cx="595.5" cy="105.5" r="1.1" fill="#8000ff"/>
<circle cx="595.6" cy="93.8" r="1.1" fill="#8000ff"/>
<circle cx="593.8" cy="97.9" r="1.1" fill="#8000ff"/>
<circle cx="597.9" cy="109.6" r="1.1" fill="#8000ff"/>
<circle cx="595.5" cy="91.9" r="1.1" fill="#8000ff"/>
<circle cx="597.5" cy="100.2" r="1.1" fill="#8000ff"/>
<circle cx="595.2" cy="107.2" r="1.1" fill="#8000ff"/>
<circle cx="596.5" cy="116.7" r="1.1" fill="#8000ff"/>
<circle cx="596.7" cy="96.9" r="1.1" fill="#8000ff"/>
<circle cx="595.0" cy="89.7" r="1.1" fill="#8000ff"/>
<circle cx="596.1" cy="87.5" r="1.1" fill="#8000ff"/>
<circle cx="597.0" cy="108.5" r="1.1" fill="#8000ff"/>
<circle cx="596.6" cy="112.6" r="1.1" fill="#8000ff"/>
<circle cx="596.5" cy="106.0" r="1.1" fill="#8000ff"/>
<circle cx="594.9" cy="102.0" r="1.1" fill="#8000ff"/>
<circle cx="599.5" cy="111.3" r="1.1" fill="#8000ff"/>
<circle cx="596.1" cy="98.6" r="1.1" fill="#8000ff"/>
<circle cx="596.4" cy="87.9" r="1.1" fill="#8000ff"/>
<circle cx="598.1" cy="104.3" r="1.1" fill="#8000ff"/>
<circle cx="596.0" cy="110.6" r="1.1" fill="#8000ff"/>
<circle cx="596.1" cy="95.9" r="1.1" fill="#8000ff"/>
<circle cx="594.8" cy="87.3" r="1.1" fill="#8000ff"/>
<circle cx="592.6" cy="90.1" r="1.1" fill="#8000ff"/>
<circle cx="596.8" cy="87.8" r="1.1" fill="#8000ff"/>
<circle cx="593.5" cy="89.2" r="1.1" fill="#8000ff"/>
<circle cx="597.4" cy="96.0" r="1.1" fill="#8000ff"/>
<circle cx="594.7" cy="88.2" r="1.1" fill="#8000ff"/>
<circle cx="597.5" cy="101.0" r="1.1" fill="#8000ff"/>
<circle cx="598.9" cy="110.5" r="1.1" fill="#8000ff"/>
<circle cx="594.5" cy="92.8" r="1.1" fill="#8000ff"/>
<circle cx="597.5" cy="95.1" r="1.1" fill="#8000ff"/>
<circle cx="596.5" cy="115.8" r="1.1" fill="#8000ff"/>
<circle cx="593.4" cy="90.2" r="1.1" fill="#8000ff"/>
<circle cx="595.0" cy="91.7" r="1.1" fill="#8000ff"/>
<circle cx="593.9" cy="102.3" r="1.1" fill="#8000ff"/>
<circle cx="594.5" cy="87.1" r="1.1" fill="#8000ff"/>
<circle cx="595.5" cy="95.4" r="1.1" fill="#8000ff"/>
<circle cx="599.2" cy="115.6" r="1.1" fill="#8000ff"/>
<circle cx="595.8" cy="99.9" r="1.1" fill="#8000ff"/>
<circle cx="593.6" cy="105.3" r="1.1" fill="#8000ff"/>
<circle cx="599.2" cy="113.6" r="1.1" fill="#8000ff"/>
<circle cx="599.1" cy="112.6" r="1.1" fill="#8000ff"/>
<circle cx="594.4" cy="96.1" r="1.1" fill="#8000ff"/>
<circle cx="595.9" cy="88.7" r="1.1" fill="#8000ff"/>
<circle cx="592.3" cy="87.9" r="1.1" fill="#8000ff"/>
<circle cx="592.9" cy="91.0" r="1.1" fill="#8000ff"/>
<circle cx="592.2" cy="94.5" r="1.1" fill="#8000ff"/>
<circle cx="592.8" cy="87.1" r="1.1" fill="#8000ff"/>
<circle cx="594.2" cy="88.6" r="1.1" fill="#8000ff"/>
<circle cx="597.5" cy="87.3" r="1.1" fill="#8000ff"/>
<circle cx="593.5" cy="103.2" r="1.1" fill="#8000ff"/>
<circle cx="594.1" cy="92.1" r="1.1" fill="#8000ff"/>
<circle cx="592.7" cy="95.2" r="1.1" fill="#8000ff"/>
<circle cx="599.8" cy="111.6" r="1.1" fill="#8000ff"/>
<circle cx="595.0" cy="98.3" r="1.1" fill="#8000ff"/>
<circle cx="592.5" cy="88.3" r="1.1" fill="#8000ff"/>
<circle cx="593.6" cy="94.6" r="1.1" fill="#8000ff"/>
<circle cx="595.4" cy="110.9" r="1.1" fill="#8000ff"/>
<circle cx="598.0" cy="87.3" r="1.1" fill="#8000ff"/>
<circle cx="592.8" cy="100.3" r="1.1" fill="#8000ff"/>
<circle cx="592.0" cy="100.8" r="1.1" fill="#8000ff"/>
<circle cx="598.1" cy="100.3" r="1.1" fill="#8000ff"/>
<circle cx="598.4" cy="112.2" r="1.1" fill="#8000ff"/>
<circle cx="594.2" cy="92.4" r="1.1" fill="#8000ff"/>
<circle cx="596.8" cy="90.0" r="1.1" fill="#8000ff"/>
<circle cx="596.9" cy="100.5" r="1.1" fill="#8000ff"/>
<circle cx="593.3" cy="94.3" r="1.1" fill="#8000ff"/>
<circle cx="599.5" cy="110.2" r="1.1" fill="#8000ff"/>
<circle cx="598.9" cy="111.8" r="1.1" fill="#8000ff"/>
<circle cx="598.3" cy="110.5" r="1.1" fill="#8000ff"/>
<circle cx="595.2" cy="91.5" r="1.1" fill="#8000ff"/>
<circle cx="592.1" cy="95.0" r="1.1" fill="#8000ff"/>
<circle cx="593.7" cy="87.4" r="1.1" fill="#8000ff"/>
<circle cx="596.3" cy="92.3" r="1.1" fill="#8000ff"/>
<circle cx="598.0" cy="115.8" r="1.1" fill="#8000ff"/>
<circle cx="600.6" cy="115.0" r="1.1" fill="#8000ff"/>
<circle cx="597.6" cy="115.7" r="1.1" fill="#8000ff"/>
<circle cx="593.3" cy="91.3" r="1.1" fill="#8000ff"/>
<circle cx="593.2" cy="90.7" r="1.1" fill="#8000ff"/>
<circle cx="597.5" cy="103.5" r="1.1" fill="#8000ff"/>
<circle cx="597.1" cy="111.3" r="1.1" fill="#8000ff"/>
<circle cx="597.2" cy="104.5" r="1.1" fill="#8000ff"/>
<circle cx="596.1" cy="88.3" r="1.1" fill="#8000ff"/>
<circle cx="599.3" cy="114.0" r="1.1" fill="#8000ff"/>
<circle cx="596.4" cy="108.0" r="1.1" fill="#8000ff"/>
<circle cx="596.9" cy="90.3" r="1.1" fill="#8000ff"/>
<circle cx="597.0" cy="94.3" r="1.1" fill="#8000ff"/>
<circle cx="597.9" cy="116.4" r="1.1" fill="#8000ff"/>
<circle cx="597.9" cy="96.3" r="1.1" fill="#8000ff"/>
<circle cx="594.6" cy="107.1" r="1.1" fill="#8000ff"/>
<circle cx="592.8" cy="89.1" r="1.1" fill="#8000ff"/>
<circle cx="599.4" cy="113.8" r="1.1" fill="#8000ff"/>
<circle cx="597.2" cy="89.6" r="1.1" fill="#8000ff"/>
<circle cx="599.3" cy="116.7" r="1.1" fill="#8000ff"/>
<circle cx="595.4" cy="94.8" r="1.1" fill="#8000ff"/>
<circle cx="592.0" cy="89.2" r="1.1" fill="#8000ff"/>
<circle cx="599.2" cy="116.3" r="1.1" fill="#8000ff"/>
<circle cx="597.8" cy="100.3" r="1.1" fill="#8000ff"/>
<circle cx="597.4" cy="97.3" r="1.1" fill="#8000ff"/>
<circle cx="595.6" cy="110.8" r="1.1" fill="#8000ff"/>
<circle cx="593.7" cy="92.1" r="1.1" fill="#8000ff"/>
<circle cx="595.6" cy="91.8" r="1.1" fill="#8000ff"/>
<circle cx="596.9" cy="85.5" r="1.1" fill="#8000ff"/>
<circle cx="592.9" cy="116.4" r="1.1" fill="#8000ff"/>
<circle cx="600.4" cy="116.4" r="1.1" fill="#8000ff"/>
<circle cx="594.5" cy="118.0" r="1.1" fill="#8000ff"/>
<circle cx="599.3" cy="118.0" r="1.1" fill="#8000ff"/>
<circle cx="597.5" cy="121.9" r="1.1" fill="#8000ff"/>
<circle cx="596.7" cy="122.3" r="1.1" fill="#8000ff"/>
<circle cx="592.9" cy="140.1" r="1.1" fill="#8000ff"/>
<circle cx="596.7" cy="137.2" r="1.1" fill="#8000ff"/>
<circle cx="597.7" cy="135.9" r="1.1" fill="#8000ff"/>
<circle cx="594.0" cy="127.1" r="1.1" fill="#8000ff"/>
<circle cx="593.7" cy="107.3" r="1.1" fill="#8000ff"/>
<circle cx="594.5" cy="110.0" r="1.1" fill="#8000ff"/>
<circle cx="594.0" cy="115.3" r="1.1" fill="#8000ff"/>
<rect x="593.9" y="112.5" width="2" height="2" fill="#2090f0"/>
<rect x="590.0" y="119.1" width="2" height="2" fill="#e6c86a"/>
<rect x="592.7" y="120.7" width="2" height="2" fill="#e6c86a"/>
<rect x="590.9" y="123.9" width="2" height="2" fill="#e6c86a"/>
<rect x="595.7" y="125.5" width="2" height="2" fill="#e6c86a"/>
<rect x="590.3" y="125.5" width="2" height="2" fill="#e6c86a"/>
<rect x="593.0" y="127.7" width="2" height="2" fill="#e6c86a"/>
<rect x="596.2" y="132.5" width="2" height="2" fill="#e6c86a"/>
<rect x="594.6" y="122.7" width="2" height="2" fill="#ff4a26"/>
<rect x="593.0" y="131.2" width="2" height="2" fill="#ff4a26"/>
<rect x="589.1" y="123.9" width="2" height="2" fill="#5ce8a8"/>
<rect x="591.9" y="127.1" width="2" height="2" fill="#5ce8a8"/>
<rect x="594.6" y="134.6" width="2" height="2" fill="#5ce8a8"/>
<rect x="590.3" y="129.8" width="2" height="2" fill="#2090f0"/>
<rect x="594.1" y="133.0" width="2" height="2" fill="#2090f0"/>
<rect x="591.7" y="128.7" width="2" height="2" fill="#22d0e0"/>
<rect x="626.8" y="84.8" width="2" height="2" fill="#a0f090"/>
<rect x="638.0" y="90.0" width="2" height="2" fill="#a0f090"/>
<rect x="620.9" y="87.9" width="2" height="2" fill="#2090f0"/>
<rect x="627.1" y="93.0" width="2" height="2" fill="#2090f0"/>
<rect x="623.2" y="88.9" width="2" height="2" fill="#4050ff"/>
<rect x="629.6" y="88.9" width="2" height="2" fill="#4050ff"/>
<rect x="634.9" y="89.1" width="2" height="2" fill="#e6c86a"/>
<rect x="630.0" y="91.1" width="2" height="2" fill="#e6c86a"/>
<rect x="628.2" y="96.0" width="2" height="2" fill="#e6c86a"/>
<rect x="630.0" y="107.4" width="2" height="2" fill="#e6c86a"/>
<rect x="634.9" y="90.7" width="2" height="2" fill="#22d0e0"/>
<rect x="634.6" y="98.7" width="2" height="2" fill="#22d0e0"/>
<rect x="628.4" y="102.3" width="2" height="2" fill="#22d0e0"/>
<rect x="627.5" y="104.5" width="2" height="2" fill="#22d0e0"/>
<rect x="628.9" y="90.3" width="2" height="2" fill="#5ce8a8"/>
<rect x="629.8" y="92.7" width="2" height="2" fill="#5ce8a8"/>
<rect x="624.5" y="100.8" width="2" height="2" fill="#5ce8a8"/>
<circle cx="630.3" cy="102.0" r="1.1" fill="#8000ff"/>
<rect x="538.3" y="76.0" width="2" height="2" fill="#ff4a26"/>
<rect x="552.0" y="85.7" width="2" height="2" fill="#ff9a4e"/>
<rect x="545.3" y="142.3" width="2" height="2" fill="#2090f0"/>
<rect x="499.7" y="113.3" width="2" height="2" fill="#ff4a26"/>
<rect x="764.9" y="378.6" width="2" height="2" fill="#2090f0"/>
<rect x="834.8" y="375.8" width="2" height="2" fill="#ff4a26"/>
<rect x="795.6" y="436.4" width="2" height="2" fill="#ff4a26"/>
<circle cx="816.5" cy="464.6" r="1.1" fill="#8000ff"/>
<circle cx="826.5" cy="463.4" r="1.1" fill="#8000ff"/>
<circle cx="811.7" cy="457.9" r="1.1" fill="#8000ff"/>
<circle cx="814.0" cy="462.3" r="1.1" fill="#8000ff"/>
<circle cx="805.8" cy="467.0" r="1.1" fill="#8000ff"/>
<circle cx="816.3" cy="456.2" r="1.1" fill="#8000ff"/>
<circle cx="803.6" cy="457.4" r="1.1" fill="#8000ff"/>
<circle cx="818.2" cy="457.3" r="1.1" fill="#8000ff"/>
<circle cx="826.4" cy="463.9" r="1.1" fill="#8000ff"/>
<circle cx="806.4" cy="459.4" r="1.1" fill="#8000ff"/>
<circle cx="818.2" cy="459.1" r="1.1" fill="#8000ff"/>
<circle cx="806.7" cy="465.7" r="1.1" fill="#8000ff"/>
<circle cx="812.1" cy="458.8" r="1.1" fill="#8000ff"/>
<circle cx="812.1" cy="464.1" r="1.1" fill="#8000ff"/>
<circle cx="821.7" cy="459.5" r="1.1" fill="#8000ff"/>
<circle cx="808.1" cy="461.7" r="1.1" fill="#8000ff"/>
<circle cx="820.4" cy="465.4" r="1.1" fill="#8000ff"/>
<circle cx="807.7" cy="462.9" r="1.1" fill="#8000ff"/>
<circle cx="825.9" cy="462.0" r="1.1" fill="#8000ff"/>
<circle cx="806.8" cy="458.8" r="1.1" fill="#8000ff"/>
<circle cx="801.7" cy="463.9" r="1.1" fill="#8000ff"/>
<circle cx="809.7" cy="457.7" r="1.1" fill="#8000ff"/>
<circle cx="815.6" cy="465.8" r="1.1" fill="#8000ff"/>
<circle cx="811.3" cy="460.3" r="1.1" fill="#8000ff"/>
<circle cx="816.7" cy="465.3" r="1.1" fill="#8000ff"/>
<circle cx="811.2" cy="461.2" r="1.1" fill="#8000ff"/>
<circle cx="819.8" cy="461.0" r="1.1" fill="#8000ff"/>
<circle cx="806.1" cy="460.0" r="1.1" fill="#8000ff"/>
<circle cx="801.6" cy="459.6" r="1.1" fill="#8000ff"/>
<circle cx="812.6" cy="459.1" r="1.1" fill="#8000ff"/>
<circle cx="808.3" cy="465.3" r="1.1" fill="#8000ff"/>
<circle cx="821.3" cy="464.0" r="1.1" fill="#8000ff"/>
<circle cx="817.8" cy="464.9" r="1.1" fill="#8000ff"/>
<circle cx="808.4" cy="464.1" r="1.1" fill="#8000ff"/>
<circle cx="805.8" cy="461.1" r="1.1" fill="#8000ff"/>
<circle cx="821.1" cy="464.0" r="1.1" fill="#8000ff"/>
<circle cx="817.3" cy="462.4" r="1.1" fill="#8000ff"/>
<circle cx="804.9" cy="463.7" r="1.1" fill="#8000ff"/>
<circle cx="811.5" cy="465.7" r="1.1" fill="#8000ff"/>
<circle cx="817.3" cy="465.4" r="1.1" fill="#8000ff"/>
<circle cx="807.9" cy="463.3" r="1.1" fill="#8000ff"/>
<circle cx="820.1" cy="465.8" r="1.1" fill="#8000ff"/>
<circle cx="808.0" cy="466.0" r="1.1" fill="#8000ff"/>
<circle cx="824.2" cy="463.9" r="1.1" fill="#8000ff"/>
<circle cx="813.2" cy="461.7" r="1.1" fill="#8000ff"/>
<circle cx="818.6" cy="464.3" r="1.1" fill="#8000ff"/>
<circle cx="821.4" cy="462.4" r="1.1" fill="#8000ff"/>
<circle cx="817.8" cy="460.2" r="1.1" fill="#8000ff"/>
<circle cx="816.5" cy="465.1" r="1.1" fill="#8000ff"/>
<circle cx="816.9" cy="464.4" r="1.1" fill="#8000ff"/>
<circle cx="810.8" cy="463.4" r="1.1" fill="#8000ff"/>
<circle cx="803.9" cy="463.9" r="1.1" fill="#8000ff"/>
<circle cx="811.6" cy="459.7" r="1.1" fill="#8000ff"/>
<circle cx="816.2" cy="462.6" r="1.1" fill="#8000ff"/>
<circle cx="805.7" cy="460.1" r="1.1" fill="#8000ff"/>
<circle cx="816.2" cy="455.8" r="1.1" fill="#8000ff"/>
<circle cx="814.1" cy="459.1" r="1.1" fill="#8000ff"/>
<circle cx="822.6" cy="460.2" r="1.1" fill="#8000ff"/>
<circle cx="822.4" cy="463.3" r="1.1" fill="#8000ff"/>
<circle cx="808.6" cy="456.4" r="1.1" fill="#8000ff"/>
<circle cx="815.7" cy="462.2" r="1.1" fill="#8000ff"/>
<circle cx="816.1" cy="459.3" r="1.1" fill="#8000ff"/>
<circle cx="800.4" cy="462.2" r="1.1" fill="#8000ff"/>
<circle cx="801.4" cy="463.1" r="1.1" fill="#8000ff"/>
<circle cx="808.8" cy="460.4" r="1.1" fill="#8000ff"/>
<circle cx="804.1" cy="458.5" r="1.1" fill="#8000ff"/>
<circle cx="825.6" cy="462.6" r="1.1" fill="#8000ff"/>
<circle cx="812.6" cy="460.2" r="1.1" fill="#8000ff"/>
<circle cx="812.4" cy="458.4" r="1.1" fill="#8000ff"/>
<circle cx="811.9" cy="456.1" r="1.1" fill="#8000ff"/>
<circle cx="816.5" cy="460.6" r="1.1" fill="#8000ff"/>
<circle cx="806.2" cy="465.2" r="1.1" fill="#8000ff"/>
<circle cx="813.7" cy="458.2" r="1.1" fill="#8000ff"/>
<circle cx="804.7" cy="458.1" r="1.1" fill="#8000ff"/>
<circle cx="806.2" cy="462.8" r="1.1" fill="#8000ff"/>
<circle cx="811.9" cy="463.3" r="1.1" fill="#8000ff"/>
<circle cx="815.9" cy="464.7" r="1.1" fill="#8000ff"/>
<circle cx="813.7" cy="459.1" r="1.1" fill="#8000ff"/>
<circle cx="806.3" cy="461.7" r="1.1" fill="#8000ff"/>
<circle cx="811.6" cy="459.4" r="1.1" fill="#8000ff"/>
<circle cx="820.3" cy="462.6" r="1.1" fill="#8000ff"/>
<circle cx="811.3" cy="467.0" r="1.1" fill="#8000ff"/>
<circle cx="824.8" cy="462.0" r="1.1" fill="#8000ff"/>
<circle cx="810.4" cy="462.4" r="1.1" fill="#8000ff"/>
<circle cx="819.2" cy="463.1" r="1.1" fill="#8000ff"/>
<circle cx="812.1" cy="467.0" r="1.1" fill="#8000ff"/>
<circle cx="809.1" cy="459.9" r="1.1" fill="#8000ff"/>
<circle cx="806.3" cy="465.9" r="1.1" fill="#8000ff"/>
<circle cx="818.7" cy="460.4" r="1.1" fill="#8000ff"/>
<circle cx="806.0" cy="465.2" r="1.1" fill="#8000ff"/>
<circle cx="812.0" cy="462.0" r="1.1" fill="#8000ff"/>
<circle cx="812.6" cy="459.0" r="1.1" fill="#8000ff"/>
<circle cx="801.8" cy="462.5" r="1.1" fill="#8000ff"/>
<circle cx="822.7" cy="465.3" r="1.1" fill="#8000ff"/>
<circle cx="803.9" cy="463.3" r="1.1" fill="#8000ff"/>
<circle cx="806.2" cy="467.1" r="1.1" fill="#8000ff"/>
<circle cx="798.8" cy="462.4" r="1.1" fill="#8000ff"/>
<circle cx="810.5" cy="458.8" r="1.1" fill="#8000ff"/>
<circle cx="815.8" cy="461.2" r="1.1" fill="#8000ff"/>
<circle cx="816.8" cy="461.4" r="1.1" fill="#8000ff"/>
<circle cx="825.5" cy="462.1" r="1.1" fill="#8000ff"/>
<circle cx="816.4" cy="458.1" r="1.1" fill="#8000ff"/>
<circle cx="814.3" cy="458.0" r="1.1" fill="#8000ff"/>
<circle cx="820.5" cy="461.6" r="1.1" fill="#8000ff"/>
<circle cx="808.6" cy="464.6" r="1.1" fill="#8000ff"/>
<circle cx="802.6" cy="464.3" r="1.1" fill="#8000ff"/>
<circle cx="824.4" cy="461.1" r="1.1" fill="#8000ff"/>
<circle cx="807.1" cy="465.4" r="1.1" fill="#8000ff"/>
<circle cx="826.8" cy="463.8" r="1.1" fill="#8000ff"/>
<circle cx="816.6" cy="459.3" r="1.1" fill="#8000ff"/>
<circle cx="804.4" cy="459.0" r="1.1" fill="#8000ff"/>
<circle cx="807.9" cy="459.8" r="1.1" fill="#8000ff"/>
<circle cx="817.3" cy="465.5" r="1.1" fill="#8000ff"/>
<circle cx="810.6" cy="466.2" r="1.1" fill="#8000ff"/>
<circle cx="813.2" cy="462.6" r="1.1" fill="#8000ff"/>
<circle cx="815.0" cy="464.6" r="1.1" fill="#8000ff"/>
<circle cx="812.1" cy="464.9" r="1.1" fill="#8000ff"/>
<circle cx="824.8" cy="463.0" r="1.1" fill="#8000ff"/>
<circle cx="810.4" cy="460.9" r="1.1" fill="#8000ff"/>
<circle cx="805.0" cy="458.3" r="1.1" fill="#8000ff"/>
<circle cx="826.3" cy="463.9" r="1.1" fill="#8000ff"/>
<circle cx="818.1" cy="460.9" r="1.1" fill="#8000ff"/>
<circle cx="817.9" cy="458.5" r="1.1" fill="#8000ff"/>
<circle cx="818.1" cy="464.5" r="1.1" fill="#8000ff"/>
<circle cx="806.8" cy="460.9" r="1.1" fill="#8000ff"/>
<circle cx="805.9" cy="464.5" r="1.1" fill="#8000ff"/>
<circle cx="804.6" cy="463.7" r="1.1" fill="#8000ff"/>
<circle cx="817.2" cy="460.4" r="1.1" fill="#8000ff"/>
<circle cx="813.3" cy="459.3" r="1.1" fill="#8000ff"/>
<circle cx="825.1" cy="461.2" r="1.1" fill="#8000ff"/>
<circle cx="805.0" cy="460.1" r="1.1" fill="#8000ff"/>
<circle cx="813.6" cy="455.6" r="1.1" fill="#8000ff"/>
<circle cx="814.0" cy="467.1" r="1.1" fill="#8000ff"/>
<circle cx="815.7" cy="466.2" r="1.1" fill="#8000ff"/>
<circle cx="813.9" cy="461.1" r="1.1" fill="#8000ff"/>
<circle cx="814.9" cy="459.6" r="1.1" fill="#8000ff"/>
<circle cx="816.6" cy="464.4" r="1.1" fill="#8000ff"/>
<circle cx="811.1" cy="465.8" r="1.1" fill="#8000ff"/>
<circle cx="821.2" cy="465.7" r="1.1" fill="#8000ff"/>
<circle cx="799.7" cy="460.4" r="1.1" fill="#8000ff"/>
<circle cx="820.5" cy="462.1" r="1.1" fill="#8000ff"/>
<circle cx="825.0" cy="463.4" r="1.1" fill="#8000ff"/>
<circle cx="820.8" cy="462.4" r="1.1" fill="#8000ff"/>
<circle cx="810.9" cy="465.7" r="1.1" fill="#8000ff"/>
<circle cx="819.8" cy="464.1" r="1.1" fill="#8000ff"/>
<circle cx="805.4" cy="465.6" r="1.1" fill="#8000ff"/>
<circle cx="809.0" cy="456.3" r="1.1" fill="#8000ff"/>
<circle cx="805.3" cy="463.7" r="1.1" fill="#8000ff"/>
<circle cx="820.9" cy="462.1" r="1.1" fill="#8000ff"/>
<circle cx="801.1" cy="459.4" r="1.1" fill="#8000ff"/>
<circle cx="826.7" cy="462.9" r="1.1" fill="#8000ff"/>
<circle cx="815.3" cy="465.8" r="1.1" fill="#8000ff"/>
<circle cx="813.6" cy="456.8" r="1.1" fill="#8000ff"/>
<circle cx="819.2" cy="460.6" r="1.1" fill="#8000ff"/>
<circle cx="810.6" cy="460.5" r="1.1" fill="#8000ff"/>
<circle cx="815.7" cy="455.9" r="1.1" fill="#8000ff"/>
<circle cx="822.5" cy="460.2" r="1.1" fill="#8000ff"/>
<circle cx="798.1" cy="462.4" r="1.1" fill="#8000ff"/>
<circle cx="814.6" cy="459.4" r="1.1" fill="#8000ff"/>
<circle cx="808.0" cy="457.9" r="1.1" fill="#8000ff"/>
<circle cx="823.6" cy="463.0" r="1.1" fill="#8000ff"/>
<circle cx="809.6" cy="456.4" r="1.1" fill="#8000ff"/>
<circle cx="823.0" cy="461.2" r="1.1" fill="#8000ff"/>
<circle cx="800.1" cy="464.3" r="1.1" fill="#8000ff"/>
<circle cx="818.4" cy="466.3" r="1.1" fill="#8000ff"/>
<circle cx="816.5" cy="465.5" r="1.1" fill="#8000ff"/>
<circle cx="813.0" cy="462.5" r="1.1" fill="#8000ff"/>
<circle cx="809.0" cy="461.0" r="1.1" fill="#8000ff"/>
<circle cx="819.0" cy="459.9" r="1.1" fill="#8000ff"/>
<circle cx="825.9" cy="464.0" r="1.1" fill="#8000ff"/>
<circle cx="792.5" cy="469.0" r="1.1" fill="#8000ff"/>
<circle cx="794.0" cy="468.6" r="1.1" fill="#8000ff"/>
<circle cx="795.5" cy="468.3" r="1.1" fill="#8000ff"/>
<circle cx="797.0" cy="467.9" r="1.1" fill="#8000ff"/>
<circle cx="798.6" cy="467.4" r="1.1" fill="#8000ff"/>
<circle cx="800.1" cy="467.0" r="1.1" fill="#8000ff"/>
<circle cx="801.6" cy="466.7" r="1.1" fill="#8000ff"/>
<circle cx="792.9" cy="459.8" r="1.1" fill="#8000ff"/>
<circle cx="794.8" cy="460.6" r="1.1" fill="#8000ff"/>
<circle cx="797.4" cy="459.0" r="1.1" fill="#8000ff"/>
<circle cx="788.7" cy="454.1" r="1.1" fill="#8000ff"/>
<circle cx="788.3" cy="455.6" r="1.1" fill="#8000ff"/>
<circle cx="772.3" cy="454.1" r="1.1" fill="#8000ff"/>
<circle cx="769.4" cy="456.2" r="1.1" fill="#8000ff"/>
<circle cx="774.0" cy="460.2" r="1.1" fill="#8000ff"/>
<circle cx="782.6" cy="462.9" r="1.1" fill="#8000ff"/>
<circle cx="783.7" cy="462.7" r="1.1" fill="#8000ff"/>
<rect x="783.1" y="456.1" width="2" height="2" fill="#e6c86a"/>
<rect x="783.1" y="457.7" width="2" height="2" fill="#e6c86a"/>
<rect x="783.9" y="459.2" width="2" height="2" fill="#e6c86a"/>
<rect x="785.0" y="459.6" width="2" height="2" fill="#e6c86a"/>
<rect x="780.0" y="459.2" width="2" height="2" fill="#e6c86a"/>
<rect x="783.9" y="460.7" width="2" height="2" fill="#e6c86a"/>
<rect x="785.0" y="460.7" width="2" height="2" fill="#e6c86a"/>
<rect x="788.4" y="459.0" width="2" height="2" fill="#e6c86a"/>
<rect x="789.6" y="460.7" width="2" height="2" fill="#e6c86a"/>
<rect x="775.5" y="458.0" width="2" height="2" fill="#e6c86a"/>
<rect x="776.8" y="454.8" width="2" height="2" fill="#ff4a26"/>
<rect x="776.8" y="458.4" width="2" height="2" fill="#ff4a26"/>
<rect x="786.1" y="456.9" width="2" height="2" fill="#ff4a26"/>
<rect x="805.2" y="461.2" width="2" height="2" fill="#ff4a26"/>
<rect x="802.1" y="463.5" width="2" height="2" fill="#ff4a26"/>
<rect x="809.8" y="465.7" width="2" height="2" fill="#ff4a26"/>
<rect x="801.4" y="466.8" width="2" height="2" fill="#ff4a26"/>
<rect x="801.6" y="468.3" width="2" height="2" fill="#ff4a26"/>
<rect x="805.0" y="468.0" width="2" height="2" fill="#ff4a26"/>
<rect x="790.7" y="468.9" width="2" height="2" fill="#ff4a26"/>
<rect x="811.7" y="470.1" width="2" height="2" fill="#ff4a26"/>
<rect x="810.9" y="472.5" width="2" height="2" fill="#ff4a26"/>
<rect x="809.8" y="473.4" width="2" height="2" fill="#ff4a26"/>
<rect x="808.8" y="474.4" width="2" height="2" fill="#ff4a26"/>
<rect x="807.9" y="475.4" width="2" height="2" fill="#ff4a26"/>
<rect x="806.7" y="476.3" width="2" height="2" fill="#ff4a26"/>
<rect x="804.4" y="473.9" width="2" height="2" fill="#ff4a26"/>
<rect x="804.0" y="476.9" width="2" height="2" fill="#ff4a26"/>
<rect x="809.5" y="476.9" width="2" height="2" fill="#ff4a26"/>
<rect x="806.1" y="479.2" width="2" height="2" fill="#ff4a26"/>
<rect x="795.9" y="476.9" width="2" height="2" fill="#ff4a26"/>
<rect x="801.2" y="481.1" width="2" height="2" fill="#ff4a26"/>
<rect x="813.2" y="481.5" width="2" height="2" fill="#ff4a26"/>
<rect x="813.6" y="474.8" width="2" height="2" fill="#ff4a26"/>
<rect x="816.6" y="474.0" width="2" height="2" fill="#ff4a26"/>
<rect x="814.9" y="477.1" width="2" height="2" fill="#ff4a26"/>
<rect x="830.5" y="473.4" width="2" height="2" fill="#ff4a26"/>
<rect x="835.3" y="482.6" width="2" height="2" fill="#ff4a26"/>
<rect x="824.8" y="461.1" width="2" height="2" fill="#ff9a4e"/>
<rect x="773.0" y="457.1" width="2" height="2" fill="#22d0e0"/>
<rect x="778.9" y="459.4" width="2" height="2" fill="#5ce8a8"/>
<rect x="781.4" y="459.0" width="2" height="2" fill="#5ce8a8"/>
<rect x="778.4" y="462.2" width="2" height="2" fill="#2090f0"/>
<rect x="795.7" y="460.7" width="2" height="2" fill="#2090f0"/>
<rect x="831.0" y="591.6" width="2" height="2" fill="#ff4a26"/>
<rect x="835.4" y="593.0" width="2" height="2" fill="#ff4a26"/>
<rect x="827.0" y="594.6" width="2" height="2" fill="#ff4a26"/>
<rect x="838.6" y="594.0" width="2" height="2" fill="#ff4a26"/>
<rect x="835.0" y="598.4" width="2" height="2" fill="#ff4a26"/>
<rect x="838.0" y="599.0" width="2" height="2" fill="#ff4a26"/>
<rect x="836.4" y="603.4" width="2" height="2" fill="#ff4a26"/>
<rect x="835.0" y="601.0" width="2" height="2" fill="#ff4a26"/>
<rect x="841.4" y="600.0" width="2" height="2" fill="#ff4a26"/>
<rect x="821.0" y="616.0" width="2" height="2" fill="#ff4a26"/>
<rect x="828.6" y="629.0" width="2" height="2" fill="#ff4a26"/>
<rect x="833.6" y="634.0" width="2" height="2" fill="#ff4a26"/>
<rect x="856.0" y="595.0" width="2" height="2" fill="#ff9a4e"/>
<rect x="858.0" y="594.0" width="2" height="2" fill="#ff9a4e"/>
<rect x="846.4" y="598.0" width="2" height="2" fill="#ff9a4e"/>
<rect x="819.4" y="604.4" width="2" height="2" fill="#ff9a4e"/>
<rect x="842.0" y="596.0" width="2" height="2" fill="#ff9a4e"/>
<rect x="819.4" y="638.0" width="2" height="2" fill="#ff9a4e"/>
<rect x="827.4" y="598.6" width="2" height="2" fill="#a0f090"/>
<rect x="832.0" y="597.4" width="2" height="2" fill="#a0f090"/>
<rect x="858.0" y="603.0" width="2" height="2" fill="#a0f090"/>
<rect x="837.0" y="602.0" width="2" height="2" fill="#a0f090"/>
<rect x="826.0" y="643.6" width="2" height="2" fill="#a0f090"/>
<rect x="818.0" y="646.0" width="2" height="2" fill="#a0f090"/>
<rect x="820.4" y="646.0" width="2" height="2" fill="#a0f090"/>
<rect x="842.4" y="595.6" width="2" height="2" fill="#5ce8a8"/>
<rect x="841.4" y="604.0" width="2" height="2" fill="#5ce8a8"/>
<rect x="845.0" y="600.6" width="2" height="2" fill="#5ce8a8"/>
<rect x="841.4" y="624.4" width="2" height="2" fill="#5ce8a8"/>
<rect x="809.0" y="650.6" width="2" height="2" fill="#5ce8a8"/>
<rect x="839.4" y="605.0" width="2" height="2" fill="#22d0e0"/>
<rect x="833.0" y="607.6" width="2" height="2" fill="#22d0e0"/>
<rect x="837.0" y="608.0" width="2" height="2" fill="#22d0e0"/>
<rect x="824.0" y="614.0" width="2" height="2" fill="#22d0e0"/>
<rect x="834.4" y="627.0" width="2" height="2" fill="#22d0e0"/>
<rect x="851.0" y="629.4" width="2" height="2" fill="#22d0e0"/>
<rect x="839.0" y="631.0" width="2" height="2" fill="#22d0e0"/>
<rect x="807.6" y="649.0" width="2" height="2" fill="#22d0e0"/>
<rect x="805.0" y="650.6" width="2" height="2" fill="#22d0e0"/>
<rect x="811.0" y="651.0" width="2" height="2" fill="#22d0e0"/>
<rect x="820.0" y="648.0" width="2" height="2" fill="#22d0e0"/>
<rect x="852.4" y="600.0" width="2" height="2" fill="#2090f0"/>
<rect x="848.0" y="601.6" width="2" height="2" fill="#2090f0"/>
<rect x="846.0" y="604.0" width="2" height="2" fill="#2090f0"/>
<rect x="835.0" y="607.0" width="2" height="2" fill="#2090f0"/>
<rect x="838.4" y="607.0" width="2" height="2" fill="#2090f0"/>
<rect x="836.4" y="630.4" width="2" height="2" fill="#2090f0"/>
<rect x="822.6" y="646.4" width="2" height="2" fill="#2090f0"/>
<rect x="817.0" y="649.0" width="2" height="2" fill="#2090f0"/>
<rect x="855.0" y="624.4" width="2" height="2" fill="#4050ff"/>
<rect x="802.0" y="640.0" width="2" height="2" fill="#e6c86a"/>
<rect x="814.0" y="649.6" width="2" height="2" fill="#e6c86a"/>
<rect x="821.0" y="650.0" width="2" height="2" fill="#e6c86a"/>
<circle cx="809.4" cy="647.4" r="1.1" fill="#8000ff"/>
<circle cx="823.0" cy="651.6" r="1.1" fill="#8000ff"/>
<rect x="158.5" y="690.5" width="787" height="38" fill="url(#rb)" stroke="#000" stroke-width="1"/>
<path d="M158.5 728.5 V732.3 M315.9 728.5 V732.3 M473.3 728.5 V732.3 M630.7 728.5 V732.3 M788.1 728.5 V732.3 M945.5 728.5 V732.3" stroke="#000" stroke-width="0.9" fill="none"/>
<text x="551.1" y="45.8" font-size="23.0" text-anchor="middle" fill="#000" font-family="DejaVu Sans, Liberation Sans, sans-serif" >SAETTA Lightning Mapping Array - 16/10/01</text>
<text x="219.3" y="51.8" font-size="10.42" text-anchor="start" fill="#000" font-family="DejaVu Sans, Liberation Sans, sans-serif" >15</text>
<text x="219.3" y="86.9" font-size="10.42" text-anchor="start" fill="#000" font-family="DejaVu Sans, Liberation Sans, sans-serif" >10</text>
<text x="219.3" y="121.6" font-size="10.42" text-anchor="start" fill="#000" font-family="DejaVu Sans, Liberation Sans, sans-serif" >5</text>
<text x="219.3" y="156.7" font-size="10.42" text-anchor="start" fill="#000" font-family="DejaVu Sans, Liberation Sans, sans-serif" >0</text>
<text x="186" y="104.6" font-size="11.5" text-anchor="start" fill="#000" font-family="DejaVu Sans, Liberation Sans, sans-serif" >Km</text>
<text x="234.2" y="211.5" font-size="10.42" text-anchor="end" fill="#000" font-family="DejaVu Sans, Liberation Sans, sans-serif" letter-spacing="-0.12">44.5°N</text>
<text x="234.2" y="262.3" font-size="10.42" text-anchor="end" fill="#000" font-family="DejaVu Sans, Liberation Sans, sans-serif" letter-spacing="-0.12">44°N</text>
<text x="234.2" y="312.59999999999997" font-size="10.42" text-anchor="end" fill="#000" font-family="DejaVu Sans, Liberation Sans, sans-serif" letter-spacing="-0.12">43.5°N</text>
<text x="234.2" y="362.8" font-size="10.42" text-anchor="end" fill="#000" font-family="DejaVu Sans, Liberation Sans, sans-serif" letter-spacing="-0.12">43°N</text>
<text x="234.2" y="412.5" font-size="10.42" text-anchor="end" fill="#000" font-family="DejaVu Sans, Liberation Sans, sans-serif" letter-spacing="-0.12">42.5°N</text>
<text x="234.2" y="461.9" font-size="10.42" text-anchor="end" fill="#000" font-family="DejaVu Sans, Liberation Sans, sans-serif" letter-spacing="-0.12">42°N</text>
<text x="234.2" y="510.7" font-size="10.42" text-anchor="end" fill="#000" font-family="DejaVu Sans, Liberation Sans, sans-serif" letter-spacing="-0.12">41.5°N</text>
<text x="234.2" y="559.3000000000001" font-size="10.42" text-anchor="end" fill="#000" font-family="DejaVu Sans, Liberation Sans, sans-serif" letter-spacing="-0.12">41°N</text>
<text x="234.2" y="607.5" font-size="10.42" text-anchor="end" fill="#000" font-family="DejaVu Sans, Liberation Sans, sans-serif" letter-spacing="-0.12">40.5°N</text>
<text x="234.2" y="655.5" font-size="10.42" text-anchor="end" fill="#000" font-family="DejaVu Sans, Liberation Sans, sans-serif" letter-spacing="-0.12">40°N</text>
<text x="241.4" y="666.8" font-size="10.42" text-anchor="middle" fill="#000" font-family="DejaVu Sans, Liberation Sans, sans-serif" letter-spacing="-0.1">5°E</text>
<text x="277.9" y="666.8" font-size="10.42" text-anchor="middle" fill="#000" font-family="DejaVu Sans, Liberation Sans, sans-serif" letter-spacing="-0.1">5.5°E</text>
<text x="314.4" y="666.8" font-size="10.42" text-anchor="middle" fill="#000" font-family="DejaVu Sans, Liberation Sans, sans-serif" letter-spacing="-0.1">6°E</text>
<text x="350.9" y="666.8" font-size="10.42" text-anchor="middle" fill="#000" font-family="DejaVu Sans, Liberation Sans, sans-serif" letter-spacing="-0.1">6.5°E</text>
<text x="387.4" y="666.8" font-size="10.42" text-anchor="middle" fill="#000" font-family="DejaVu Sans, Liberation Sans, sans-serif" letter-spacing="-0.1">7°E</text>
<text x="423.9" y="666.8" font-size="10.42" text-anchor="middle" fill="#000" font-family="DejaVu Sans, Liberation Sans, sans-serif" letter-spacing="-0.1">7.5°E</text>
<text x="460.3" y="666.8" font-size="10.42" text-anchor="middle" fill="#000" font-family="DejaVu Sans, Liberation Sans, sans-serif" letter-spacing="-0.1">8°E</text>
<text x="496.8" y="666.8" font-size="10.42" text-anchor="middle" fill="#000" font-family="DejaVu Sans, Liberation Sans, sans-serif" letter-spacing="-0.1">8.5°E</text>
<text x="533.3" y="666.8" font-size="10.42" text-anchor="middle" fill="#000" font-family="DejaVu Sans, Liberation Sans, sans-serif" letter-spacing="-0.1">9°E</text>
<text x="569.8" y="666.8" font-size="10.42" text-anchor="middle" fill="#000" font-family="DejaVu Sans, Liberation Sans, sans-serif" letter-spacing="-0.1">9.5°E</text>
<text x="606.3" y="666.8" font-size="10.42" text-anchor="middle" fill="#000" font-family="DejaVu Sans, Liberation Sans, sans-serif" letter-spacing="-0.1">10°E</text>
<text x="642.8" y="666.8" font-size="10.42" text-anchor="middle" fill="#000" font-family="DejaVu Sans, Liberation Sans, sans-serif" letter-spacing="-0.1">10.5°E</text>
<text x="679.3" y="666.8" font-size="10.42" text-anchor="middle" fill="#000" font-family="DejaVu Sans, Liberation Sans, sans-serif" letter-spacing="-0.1">11°E</text>
<text x="715.8" y="666.8" font-size="10.42" text-anchor="middle" fill="#000" font-family="DejaVu Sans, Liberation Sans, sans-serif" letter-spacing="-0.1">11.5°E</text>
<text x="756" y="667" font-size="10.42" text-anchor="middle" fill="#000" font-family="DejaVu Sans, Liberation Sans, sans-serif" >0</text>
<text x="792" y="667" font-size="10.42" text-anchor="middle" fill="#000" font-family="DejaVu Sans, Liberation Sans, sans-serif" >5</text>
<text x="831.4" y="667" font-size="10.42" text-anchor="middle" fill="#000" font-family="DejaVu Sans, Liberation Sans, sans-serif" >10</text>
<text x="868" y="667" font-size="10.42" text-anchor="middle" fill="#000" font-family="DejaVu Sans, Liberation Sans, sans-serif" >15</text>
<text x="816.4" y="676" font-size="11.5" text-anchor="middle" fill="#000" font-family="DejaVu Sans, Liberation Sans, sans-serif" >Km</text>
<text x="158.5" y="742.9" font-size="10.42" text-anchor="middle" fill="#000" font-family="DejaVu Sans, Liberation Sans, sans-serif" >0</text>
<text x="315.9" y="742.9" font-size="10.42" text-anchor="middle" fill="#000" font-family="DejaVu Sans, Liberation Sans, sans-serif" >2</text>
<text x="473.3" y="742.9" font-size="10.42" text-anchor="middle" fill="#000" font-family="DejaVu Sans, Liberation Sans, sans-serif" >4</text>
<text x="630.7" y="742.9" font-size="10.42" text-anchor="middle" fill="#000" font-family="DejaVu Sans, Liberation Sans, sans-serif" >6</text>
<text x="788.1" y="742.9" font-size="10.42" text-anchor="middle" fill="#000" font-family="DejaVu Sans, Liberation Sans, sans-serif" >8</text>
<text x="945.5" y="742.9" font-size="10.42" text-anchor="middle" fill="#000" font-family="DejaVu Sans, Liberation Sans, sans-serif" >10</text>
<text x="557.3" y="718.9" font-size="18.75" text-anchor="middle" fill="#000" font-family="DejaVu Sans, Liberation Sans, sans-serif" >from 09:10:00 to 09:19:59</text>
<text x="772.8" y="83.8" font-size="10.42" text-anchor="middle" fill="#000" font-family="DejaVu Sans, Liberation Sans, sans-serif" >6</text>
<text x="784.5" y="83.8" font-size="10.42" text-anchor="middle" fill="#000" font-family="DejaVu Sans, Liberation Sans, sans-serif" >:</text>
<text x="815.6" y="83.8" font-size="10.42" text-anchor="middle" fill="#000" font-family="DejaVu Sans, Liberation Sans, sans-serif" >2038</text>
<text x="772.8" y="93.9" font-size="10.42" text-anchor="middle" fill="#ff0000" font-family="DejaVu Sans, Liberation Sans, sans-serif" >7</text>
<text x="784.5" y="93.9" font-size="10.42" text-anchor="middle" fill="#ff0000" font-family="DejaVu Sans, Liberation Sans, sans-serif" >:</text>
<text x="815.6" y="93.9" font-size="10.42" text-anchor="middle" fill="#ff0000" font-family="DejaVu Sans, Liberation Sans, sans-serif" >384</text>
<text x="772.8" y="104.4" font-size="10.42" text-anchor="middle" fill="#000" font-family="DejaVu Sans, Liberation Sans, sans-serif" >8</text>
<text x="784.5" y="104.4" font-size="10.42" text-anchor="middle" fill="#000" font-family="DejaVu Sans, Liberation Sans, sans-serif" >:</text>
<text x="815.6" y="104.4" font-size="10.42" text-anchor="middle" fill="#000" font-family="DejaVu Sans, Liberation Sans, sans-serif" >138</text>
<text x="772.8" y="114.4" font-size="10.42" text-anchor="middle" fill="#000" font-family="DejaVu Sans, Liberation Sans, sans-serif" >9</text>
<text x="784.5" y="114.4" font-size="10.42" text-anchor="middle" fill="#000" font-family="DejaVu Sans, Liberation Sans, sans-serif" >:</text>
<text x="815.6" y="114.4" font-size="10.42" text-anchor="middle" fill="#000" font-family="DejaVu Sans, Liberation Sans, sans-serif" >64</text>
<text x="773" y="125.3" font-size="10.42" text-anchor="middle" fill="#000" font-family="DejaVu Sans, Liberation Sans, sans-serif" >10</text>
<text x="787.6" y="125.3" font-size="10.42" text-anchor="middle" fill="#000" font-family="DejaVu Sans, Liberation Sans, sans-serif" >:</text>
<text x="819.3" y="125.3" font-size="10.42" text-anchor="middle" fill="#000" font-family="DejaVu Sans, Liberation Sans, sans-serif" >33</text>
<text x="773" y="135.5" font-size="10.42" text-anchor="middle" fill="#000" font-family="DejaVu Sans, Liberation Sans, sans-serif" >11</text>
<text x="787.6" y="135.5" font-size="10.42" text-anchor="middle" fill="#000" font-family="DejaVu Sans, Liberation Sans, sans-serif" >:</text>
<text x="819.3" y="135.5" font-size="10.42" text-anchor="middle" fill="#000" font-family="DejaVu Sans, Liberation Sans, sans-serif" >10</text>
<text x="773" y="145.6" font-size="10.42" text-anchor="middle" fill="#000" font-family="DejaVu Sans, Liberation Sans, sans-serif" >12</text>
<text x="787.6" y="145.6" font-size="10.42" text-anchor="middle" fill="#000" font-family="DejaVu Sans, Liberation Sans, sans-serif" >:</text>
<text x="819.3" y="145.6" font-size="10.42" text-anchor="middle" fill="#000" font-family="DejaVu Sans, Liberation Sans, sans-serif" >1</text>
</svg>
</body></html>
